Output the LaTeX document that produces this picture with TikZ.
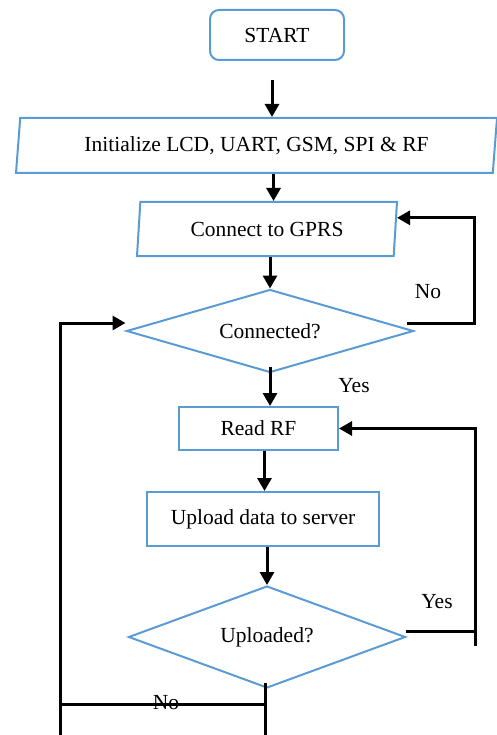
\documentclass[tikz,border=0pt]{standalone}
\usepackage{fontspec}
\setmainfont{Liberation Serif}
\usetikzlibrary{arrows.meta}
\usetikzlibrary{shapes.geometric}
\usetikzlibrary{calc}
\definecolor{boxblue}{HTML}{5B9BD5}

\begin{document}
\begin{tikzpicture}[x=1pt,y=-1pt,
	font=\fontsize{21.5}{25}\selectfont,
	box/.style={draw=boxblue,line width=2pt,inner sep=0pt},
	io/.style={box,trapezium,trapezium left angle=77,trapezium right angle=103,
		trapezium stretches body},
	decision/.style={box,diamond},
	line/.style={draw=black,line width=3pt},
	flow/.style={line,-{Triangle[length=13pt,width=14pt]}}]
	\useasboundingbox (0,0) rectangle (497,735);

	\node[box,rounded corners=9pt,minimum width=134pt,minimum height=50pt] (start) at (277,35) {START};
	\node[io,minimum width=481pt,minimum height=55pt] (init) at (256.5,145.5)
		{Initialize LCD, UART, GSM, SPI \& RF};
	\node[io,minimum width=260pt,minimum height=54pt] (gprs) at (267,229) {Connect to GPRS};
	\node[decision,aspect=3.46,minimum width=287pt,minimum height=83pt] (conn) at (270,331) {Connected?};
	\node[box,minimum width=159pt,minimum height=43pt] (read) at (258.5,428.5) {Read RF};
	\node[box,minimum width=232pt,minimum height=54pt] (upload) at (263,519) {Upload data to server};
	\node[decision,aspect=2.7,minimum width=277pt,minimum height=102pt] (upl) at (267,637) {Uploaded?};

	\node (no1) at (428,292) {No};
	\node (yes1) at (354,386) {Yes};
	\node (yes2) at (437,602) {Yes};
	\node (no2) at (166,703) {No};

	\begin{scope}
		\draw[flow] ([shift={(-5,19)}]start.south) -- ([xshift=-5pt]start.south |- init.north);
		\draw[flow] ([xshift=17pt]init.south) -- ([xshift=17pt]init.south |- gprs.north);
		\draw[flow] (conn.north |- gprs.south) -- (conn.north);
		\draw[flow] ([yshift=7pt]conn.south) -- (conn.south |- read.north);
		\draw[flow] ([xshift=6pt]read.south) -- ([xshift=6pt]read.south |- upload.north);
		\draw[flow] ([xshift=4pt]upload.south) -- (upl.north);

		% not connected
		\draw[flow] ([shift={(-8,-8)}]conn.east) -- ++(68,0)
			|- ($(gprs.top right corner)!0.3!(gprs.bottom right corner)$);

		% uploaded
		\coordinate (yesfoot) at (475,646);
		\draw[line] ([shift={(-1,-6)}]upl.east) -- ++(70,0);
		\draw[flow] (yesfoot) |- (read.east);

		% not uploaded
		\coordinate (nofoot) at (60,735);
		\draw[line] ([shift={(-2,-6)}]upl.south) -- ++(0,53);
		\draw[line] ([shift={(-2,15)}]upl.south) -- ++(-205,0);
		\draw[flow] (nofoot) |- ([yshift=8pt]conn.west);
	\end{scope}
\end{tikzpicture}
\end{document}
